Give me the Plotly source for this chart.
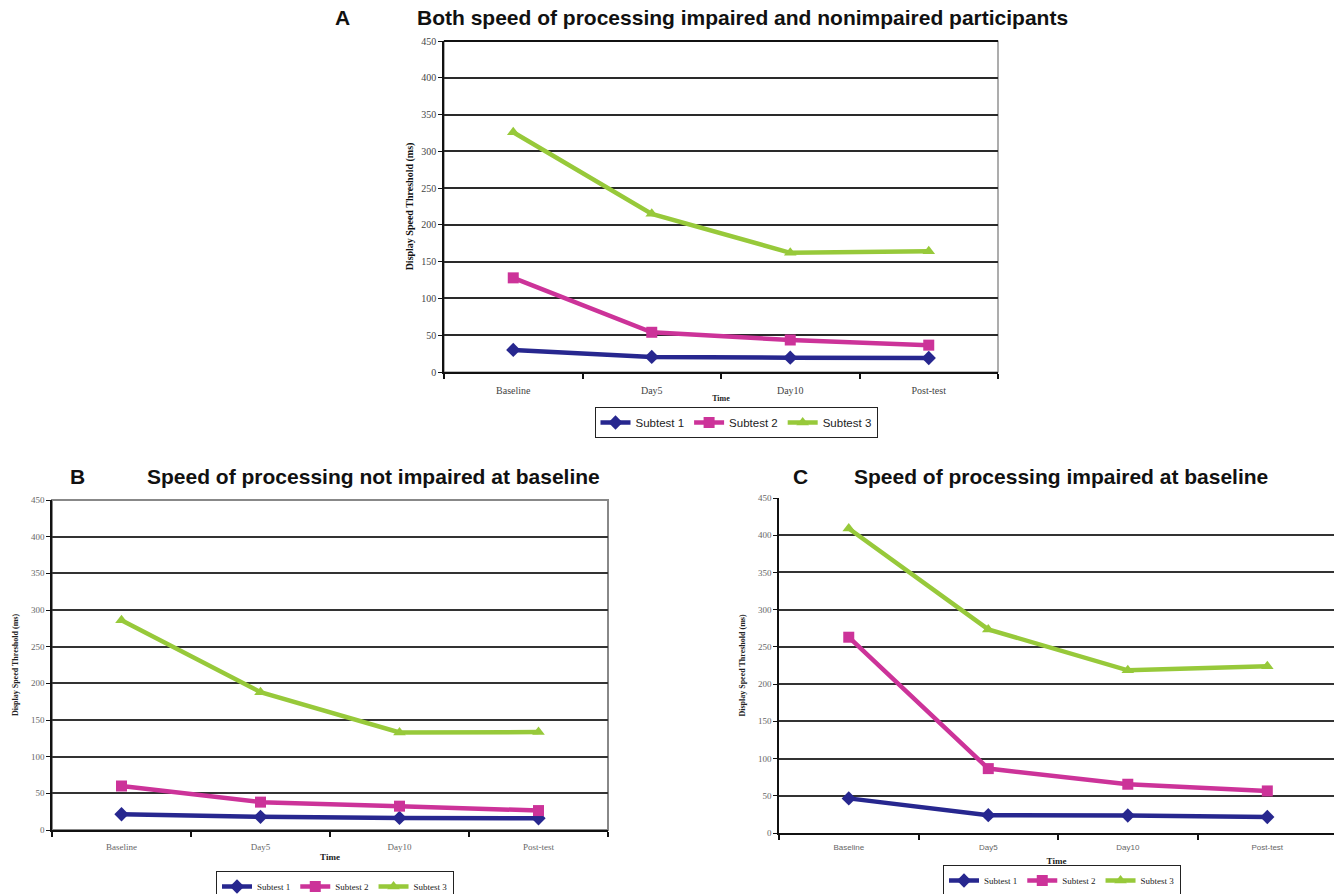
import plotly.graph_objects as go

categories = ["Baseline", "Day5", "Day10", "Post-test"]
series_names = ["Subtest 1", "Subtest 2", "Subtest 3"]

# Panel A: all participants
a_sub1 = [30, 20.5, 19.5, 19]
a_sub2 = [128, 54, 43.5, 36.5]
a_sub3 = [326, 215, 162, 164]

# Panel B: not impaired at baseline
b_sub1 = [21.5, 18, 16.5, 16]
b_sub2 = [60, 38, 32.5, 26.5]
b_sub3 = [286, 188, 133, 133.5]

# Panel C: impaired at baseline
c_sub1 = [46.5, 24, 23.5, 21.5]
c_sub2 = [263, 86.5, 65.5, 56.5]
c_sub3 = [409, 273.5, 218.5, 224]

y_ticks = [0, 50, 100, 150, 200, 250, 300, 350, 400, 450]

colors = ["#27278F", "#CC3399", "#97C93A"]
symbols = ["diamond", "square", "triangle-up"]

W, H = 1334, 894
def px_x(p):
    return p / W
def px_y(p):
    return 1 - p / H

fig = go.Figure()

panels = [
    ("", [a_sub1, a_sub2, a_sub3], "legend"),
    ("2", [b_sub1, b_sub2, b_sub3], "legend2"),
    ("3", [c_sub1, c_sub2, c_sub3], "legend3"),
]

for suffix, data, leg in panels:
    for i, (name, vals) in enumerate(zip(series_names, data)):
        fig.add_trace(go.Scatter(
            x=categories, y=vals, name=name, mode="lines+markers",
            line=dict(color=colors[i], width=4.5),
            marker=dict(symbol=symbols[i], size=11, color=colors[i]),
            xaxis="x" + suffix, yaxis="y" + suffix, legend=leg,
            showlegend=True,
        ))

serif = "Liberation Serif, Times New Roman, serif"
sans = "Liberation Sans, Arial, sans-serif"

def xaxis_cfg(domain, rng, anchor, tickfont, titlefont, standoff, labelgap):
    return dict(
        domain=domain, range=rng, anchor=anchor, type="category",
        showline=True, linecolor="#111", linewidth=1.5,
        ticks="outside", tickson="boundaries", ticklen=5, tickcolor="#111", tickwidth=1.5,
        ticklabelstandoff=labelgap,
        showgrid=False, zeroline=False,
        tickfont=tickfont,
        title=dict(text="<b>Time</b>", font=titlefont, standoff=standoff),
        fixedrange=True, automargin=False,
    )

def yaxis_cfg(domain, anchor, tickfont, titlefont, standoff, gridcolor):
    return dict(
        domain=domain, range=[0, 450], anchor=anchor,
        tickvals=y_ticks, showline=True, linecolor="#111", linewidth=1.5,
        ticks="outside", ticklen=4, tickcolor="#111",
        showgrid=True, gridcolor=gridcolor, gridwidth=1.5, zeroline=False,
        tickfont=tickfont,
        title=dict(text="<b>Display Speed Threshold (ms)</b>", font=titlefont, standoff=standoff),
        fixedrange=True, automargin=False,
    )

fig.update_layout(
    xaxis=xaxis_cfg([px_x(444), px_x(998)], [-0.5, 3.5], "y",
                    dict(family=serif, size=10, color="#444"),
                    dict(family=serif, size=8, color="#222"), 1, 8),
    yaxis=yaxis_cfg([px_y(372), px_y(41)], "x",
                    dict(family=serif, size=10, color="#444"),
                    dict(family=serif, size=10, color="#111"), 6, "#2a2a2a"),
    xaxis2=xaxis_cfg([px_x(52), px_x(608)], [-0.5, 3.5], "y2",
                     dict(family=serif, size=9, color="#666"),
                     dict(family=serif, size=9, color="#222"), 3, 7),
    yaxis2=yaxis_cfg([px_y(830), px_y(500)], "x2",
                     dict(family=serif, size=9, color="#666"),
                     dict(family=serif, size=8, color="#222"), 11, "#333"),
    xaxis3=xaxis_cfg([px_x(779), 1.0], [-0.5, 3.478], "y3",
                     dict(family=sans, size=8, color="#666"),
                     dict(family=serif, size=9, color="#222"), 6, 6),
    yaxis3=yaxis_cfg([px_y(833), px_y(498)], "x3",
                     dict(family=serif, size=9, color="#666"),
                     dict(family=serif, size=8, color="#222"), 11, "#333"),
)

# frames around plot areas
fig.add_shape(type="rect", xref="x domain", yref="y domain", x0=0, x1=1, y0=0, y1=1,
              line=dict(color="#777", width=1.2), layer="below")
fig.add_shape(type="line", xref="x domain", yref="y domain", x0=0, x1=1, y0=1, y1=1,
              line=dict(color="#111", width=2), layer="below")
fig.add_shape(type="rect", xref="x2 domain", yref="y2 domain", x0=0, x1=1, y0=0, y1=1,
              line=dict(color="#888", width=2), layer="below")

legend_common = dict(orientation="h", bgcolor="white", bordercolor="#222", borderwidth=1,
                     xanchor="center", yanchor="top", itemsizing="trace", tracegroupgap=0)
fig.update_layout(
    legend=dict(**legend_common, x=px_x(736), y=px_y(407),
                font=dict(family=sans, size=11.5, color="#222")),
    legend2=dict(**legend_common, x=px_x(335), y=px_y(871),
                 font=dict(family=serif, size=9, color="#222")),
    legend3=dict(**legend_common, x=px_x(1062), y=px_y(865),
                 font=dict(family=serif, size=9, color="#222")),
)

title_font = dict(family=sans, size=21, color="#111")
annotations = [
    dict(text="<b>A</b>", x=px_x(342), y=px_y(18)),
    dict(text="<b>Both speed of processing impaired and nonimpaired participants</b>", x=px_x(742), y=px_y(18)),
    dict(text="<b>B</b>", x=px_x(77), y=px_y(477)),
    dict(text="<b>Speed of processing not impaired at baseline</b>", x=px_x(373), y=px_y(477)),
    dict(text="<b>C</b>", x=px_x(800), y=px_y(477)),
    dict(text="<b>Speed of processing impaired at baseline</b>", x=px_x(1061), y=px_y(477)),
]
fig.update_layout(annotations=[dict(**a, xref="paper", yref="paper", showarrow=False,
                                    xanchor="center", yanchor="middle", font=title_font)
                               for a in annotations])

fig.update_layout(
    width=W, height=H, margin=dict(l=0, r=0, t=0, b=0, autoexpand=False),
    paper_bgcolor="white", plot_bgcolor="white",
)

fig.write_html("out.html", config={"displayModeBar": False},
               post_script="document.body.style.margin='0';document.body.style.overflow='hidden';")
